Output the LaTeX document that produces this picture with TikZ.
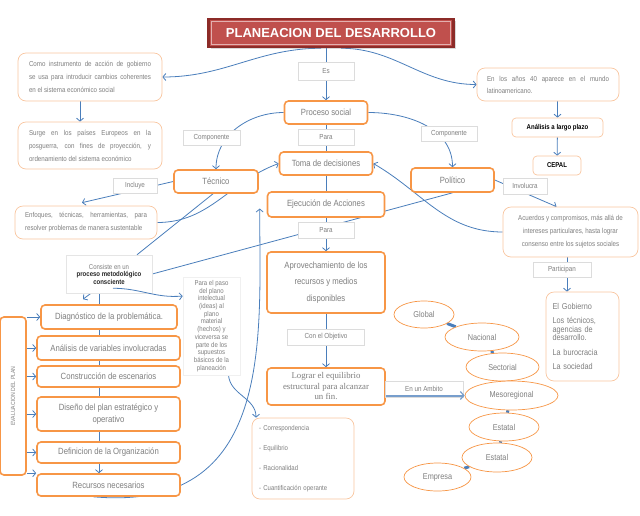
\documentclass[tikz,border=0pt]{standalone}
\usepackage{fontspec}
\setmainfont{Liberation Sans}[FakeStretch=0.86]
\newfontfamily\titlefont{Liberation Sans}
\newfontfamily\fraseserif{Liberation Serif}
\usepackage{graphicx}
\usepackage{tikz}
\usetikzlibrary{shapes,arrows.meta,positioning,calc,backgrounds,shadows}
\definecolor{naranja}{HTML}{F79646}
\definecolor{durazno}{HTML}{F9C6A0}
\definecolor{azul}{HTML}{4A7EBB}
\definecolor{gristexto}{HTML}{7F7F7F}
\definecolor{grislinea}{HTML}{DCDCDC}
\definecolor{rojotitulo}{HTML}{C0504D}
\definecolor{rojooscuro}{HTML}{8C2B28}
\newcommand{\tam}[2]{\fontsize{#1}{#2}\selectfont}
\tikzstyle{titulo} = [rectangle, fill=rojotitulo, draw=rojooscuro, line width=2.5pt, minimum width=245pt, minimum height=28pt, text=white, font=\titlefont\bfseries\tam{13}{14}, drop shadow={shadow xshift=2pt, shadow yshift=-2pt, opacity=0.3}]
\tikzstyle{caja} = [rectangle, rounded corners=4pt, draw=naranja, line width=1.6pt, fill=white, text=gristexto, align=center, font=\tam{9}{11}, inner sep=1pt]
\tikzstyle{nota} = [rectangle, rounded corners=8pt, draw=durazno, line width=0.7pt, fill=white, text=gristexto, font=\tam{7.2}{13}]
\tikzstyle{etiqueta} = [rectangle, draw=grislinea, line width=0.5pt, fill=white, text=gristexto, font=\tam{7.3}{8}, inner sep=1pt]
\tikzstyle{nivel} = [ellipse, draw=naranja, line width=0.7pt, fill=white, text=gristexto, font=\tam{8.5}{10}, inner sep=0pt]
\tikzstyle{flecha} = [azul, line width=0.8pt, -{Straight Barb[length=3pt,width=7pt,line width=0.8pt]}]
\tikzstyle{linea} = [azul, line width=0.8pt]
\tikzstyle{grueso} = [azul!75, line width=2pt, -{Straight Barb[length=3.5pt,width=8pt,line width=1.2pt]}]

\begin{document}
\begin{tikzpicture}[x=1pt, y=-1pt]
\useasboundingbox (0,0) rectangle (640,515);

% centro
\node[titulo] (title) at (331,33) {PLANEACION DEL DESARROLLO};
\draw[rojotitulo!45!white, line width=0.6pt] ([shift={(4,4)}]title.north west) rectangle ([shift={(-4,-4)}]title.south east);
\node[etiqueta, minimum width=56pt, minimum height=18pt] (es) at (326,71) {Es};
\node[caja, minimum width=83pt, minimum height=23pt] (proc) at (326,112.5) {Proceso social};
\node[etiqueta, minimum width=56pt, minimum height=16pt] (para1) at (326,137) {Para};
\node[caja, minimum width=93pt, minimum height=23pt] (toma) at (326,163.5) {Toma de decisiones};
\node[caja, minimum width=117pt, minimum height=25pt] (ejec) at (326,204.5) {Ejecución de Acciones};
\node[etiqueta, minimum width=56pt, minimum height=16pt] (para2) at (326,230) {Para};
\node[caja, minimum width=118pt, minimum height=61pt, font=\tam{9}{16.5}] (aprov) at (326,282.5) {Aprovechamiento de los\\recursos y medios\\disponibles};
\node[etiqueta, minimum width=77pt, minimum height=16pt] (objet) at (326,337) {Con el Objetivo};
\node[caja, minimum width=118pt, minimum height=37pt, font=\fraseserif\tam{8.8}{10.5}] (logr) at (326,386.5) {Lograr el equilibrio\\estructural para alcanzar\\un fin.};
\node[etiqueta, minimum width=78pt, minimum height=16pt] (ambito) at (424,389) {En un Ambito};

% izquierda
\node[nota, text width=122pt, inner xsep=11pt, minimum height=48pt, align=justify] (como) at (90,77) {Como instrumento de acción de gobierno\linebreak se usa para introducir cambios coherentes\linebreak en el sistema económico social};
\node[nota, text width=122pt, inner xsep=11pt, minimum height=47pt, align=justify] (surge) at (90,145.5) {Surge en los países Europeos en la\linebreak posguerra, con fines de proyección, y\linebreak ordenamiento del sistema económico};
\node[nota, text width=122pt, inner xsep=10pt, minimum height=33pt, align=justify] (enfoq) at (86,222.5) {Enfoques, técnicas, herramientas, para\linebreak resolver problemas de manera sustentable};
\node[etiqueta, minimum width=44pt, minimum height=15pt] (inclu) at (135,185.5) {Incluye};
\node[etiqueta, minimum width=57pt, minimum height=15pt] (comp1) at (211.5,137.5) {Componente};
\node[caja, minimum width=84pt, minimum height=23pt] (tecn) at (216,181.5) {Técnico};
\node[etiqueta, minimum width=56pt, minimum height=15pt] (comp2) at (449,133.5) {Componente};
\node[caja, minimum width=83pt, minimum height=24pt] (polit) at (452.5,180) {Político};

% derecha
\node[nota, text width=122pt, inner xsep=10pt, minimum height=33pt, align=justify, font=\tam{7.2}{12}] (anios) at (548,84.5) {En los años 40 aparece en el mundo\linebreak latinoamericano.};
\node[nota, rounded corners=4pt, minimum width=91pt, minimum height=19pt, text=black, font=\bfseries\tam{7}{8}] (anali) at (557.5,127.5) {Análisis a largo plazo};
\node[nota, rounded corners=4pt, minimum width=48pt, minimum height=19pt, text=black, font=\bfseries\tam{7}{8}] (cepal) at (557,165.5) {CEPAL};
\node[etiqueta, minimum width=44pt, minimum height=16pt] (invol) at (525,186) {Involucra};
\node[nota, minimum width=135pt, minimum height=50pt, align=center] (acuer) at (570.5,232) {Acuerdos y compromisos, más allá de\\intereses particulares, hasta lograr\\consenso entre los sujetos sociales};
\node[etiqueta, minimum width=58pt, minimum height=15pt] (partic) at (562,269.5) {Participan};
\node[nota, minimum width=73pt, minimum height=89pt, text width=60pt, align=left, font=\tam{8.5}{8.5}] (rlist) at (582.5,336.5) {El Gobierno\\[6pt]Los técnicos,\\agencias de\\desarrollo.\\[6pt]La burocracia\\[6pt]La sociedad};

% niveles
\node[nivel, minimum width=60pt, minimum height=27pt] (global) at (424,314.5) {Global};
\node[nivel, minimum width=74pt, minimum height=28pt] (nacio) at (482,337) {Nacional};
\node[nivel, minimum width=73pt, minimum height=28pt] (secto) at (502.5,367) {Sectorial};
\node[nivel, minimum width=93pt, minimum height=29pt] (meso) at (511.5,395.5) {Mesoregional};
\node[nivel, minimum width=70pt, minimum height=28pt] (estat1) at (504,427) {Estatal};
\node[nivel, minimum width=70pt, minimum height=29pt] (estat2) at (497,457.5) {Estatal};
\node[nivel, minimum width=67pt, minimum height=28pt] (empre) at (437.5,477) {Empresa};

% metodo
\node[etiqueta, draw=black!10, minimum width=86pt, minimum height=38pt, align=center, font=\tam{7}{7.5}] (consi) at (109,274) {Consiste en un\\\textcolor{black!85}{\textbf{proceso metodológico}}\\\textcolor{black!85}{\textbf{consciente}}};
\node[etiqueta, draw=black!6, minimum width=57pt, minimum height=98pt, align=center, font=\tam{7}{7.7}] (paso) at (211.5,326) {Para el paso\\del plano\\intelectual\\(ideas) al\\plano\\material\\(hechos) y\\viceversa se\\parte de los\\supuestos\\básicos de la\\planeación};
\node[caja, minimum width=136pt, minimum height=24pt] (diag) at (109,317) {Diagnóstico de la problemática.};
\node[caja, minimum width=143pt, minimum height=24pt] (anal) at (108.5,348) {Análisis de variables involucradas};
\node[caja, minimum width=143pt, minimum height=21pt] (cons) at (108.5,376.5) {Construcción de escenarios};
\node[caja, minimum width=143pt, minimum height=34pt, font=\tam{9}{12}] (dise) at (108.5,414) {Diseño del plan estratégico y\\operativo};
\node[caja, minimum width=143pt, minimum height=21pt] (defi) at (108.5,452.5) {Definicion de la Organización};
\node[caja, minimum width=143pt, minimum height=22pt] (recu) at (108.5,485) {Recursos necesarios};
\node[caja, minimum width=26pt, minimum height=158pt, font=\tam{6}{7}] (eval) at (13,396) {\rotatebox{90}{EVALUACION DEL PLAN}};
\node[nota, minimum width=102pt, minimum height=81pt, text width=88pt, align=left, font=\tam{7}{20}] (slist) at (303,458.5) {- Correspondencia\\- Equilibrio\\- Racionalidad\\- Cuantificación operante};

\begin{scope}[on background layer]
  \draw[flecha] (title.south -| proc.north) -- (proc.north);
  \draw[flecha] ([xshift=-10pt]title.south) to[out=180,in=0] (como.east);
  \draw[flecha] ([xshift=10pt]title.south) to[out=0,in=180] (anios.west);
  \draw[flecha] ([xshift=-10pt]como.south) -- ([xshift=-10pt]surge.north);
  \draw[flecha] (proc.west) to[out=180,in=90] (tecn.north);
  \draw[flecha] (proc.east) to[out=0,in=90] (polit.north);
  \draw[linea] (proc) -- (toma);
  \draw[linea] (toma) -- (ejec);
  \draw[flecha] (ejec) -- (aprov);
  \draw[flecha] (aprov) -- (logr);
  \draw[flecha] (tecn.west) -- ([xshift=-4pt,yshift=3pt]enfoq.north);
  \draw[flecha] (enfoq.east) to[out=0,in=200] (toma.west);
  \draw[linea] ([xshift=-3pt]tecn.south) -- ([xshift=28pt]consi.north);
  \draw[linea] (consi.east) -- (polit.south);
  \draw[flecha] ([xshift=-18pt]consi.south) -- ([xshift=-26pt,yshift=5pt]diag.north);
  \draw[flecha] ([xshift=-10pt]consi.south) -- ([xshift=-9.5pt]recu.north);
  \draw[flecha] ([xshift=17pt]paso.south) to[out=-85,in=90] ([xshift=-47pt]slist.north);
  \draw[flecha] ([xshift=-15pt]recu.south) to[out=-5,in=-90,out looseness=1.4] ([xshift=-7pt,yshift=-4pt]ejec.west);
  \draw[flecha] (acuer.west) to[out=180,in=-30] (toma.east);
  \draw[flecha] (polit.east) -- ([xshift=-14pt]acuer.north);
  \draw[flecha] (anios.south -| anali.north) -- (anali.north);
  \draw[flecha] (anali) -- (cepal);
  \draw[flecha] ([xshift=-3.5pt]acuer.south) -- ([xshift=-15.5pt]rlist.north);
  \foreach \n in {diag,anal,cons,dise,defi}
    \draw[flecha] (eval.east |- \n.west) -- (\n.west);
  \draw[flecha] (eval.east |- recu.north west) -- (recu.north west);
  \draw[azul, line width=3pt] (global) -- (nacio) -- (secto) -- (meso) -- (estat1) -- (estat2) -- (empre);
\end{scope}

\draw[flecha] ([xshift=4pt,yshift=5pt]consi.south) to[out=0,in=185] ([yshift=30pt]paso.west);
\draw[grueso] (logr.east |- meso.west) -- (meso.west);
\end{tikzpicture}
\end{document}
